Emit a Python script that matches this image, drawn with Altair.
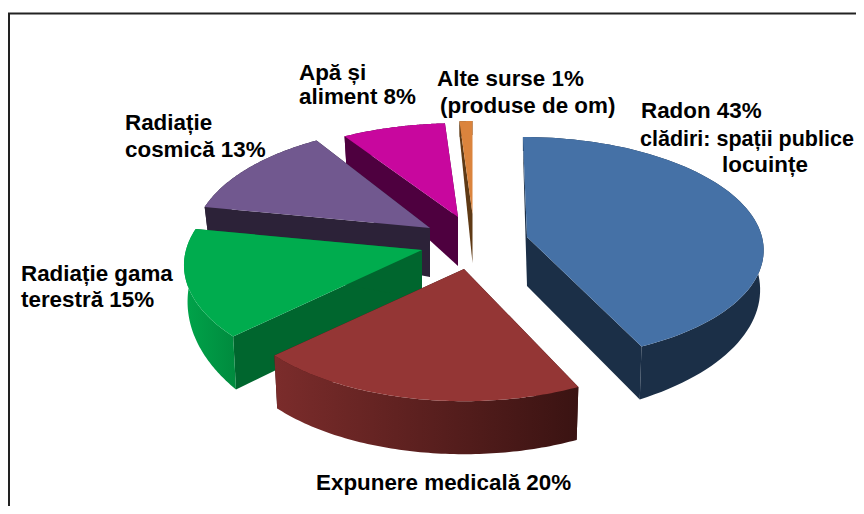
import numpy as np
import pandas as pd
import altair as alt

names = ["Radon", "Expunere medicala", "Radiatie gama", "Radiatie cosmica", "Apa si aliment", "Alte surse"]
values = [43, 20, 15, 13, 8, 1]
apex_x = [527, 464, 422, 430, 458, 472.5]
apex_y = [237, 269, 250, 228, 217, 214]
radius_x = [235, 237, 236, 235, 235, 235]
radius_y = [110, 115, 115, 115, 106, 105]
persp = [0.10, 0.13, 0.13, 0.13, 0.13, 0.13]
skew = [4.5, 0, 0, 0, 0, 0]
top_colors = ["#4571A6", "#943635", "#00AC4E", "#71588F", "#C8079E", "#DB843D"]
face_colors = ["#1B2F47", "#3A1312", "#00662E", "#2C2238", "#4E003F", "#5F3A15"]
rim_left = ["#1B2F47", "#7B2C2B", "#00A44A", "#2C2238", "#4E003F", "#5F3A15"]
rim_right = ["#1B2F47", "#3A1312", "#008A3E", "#2C2238", "#4E003F", "#5F3A15"]
apex_depth = 49
bottom_inset = 0.985
depth_angles = [0, 90, 155, 227, 281, 328, 360]
depth_rims = [14, 38, 53, 53, 28, 28, 14]

label_lines = [
    ("Apă și", 299, 80), ("aliment 8%", 299, 104),
    ("Alte surse 1%", 437, 86), ("(produse de om)", 440, 113),
    ("Radon 43%", 641, 118), ("locuințe", 722, 172),
    ("Radiație", 125, 130), ("cosmică 13%", 125, 157),
    ("Radiație gama", 21, 281), ("terestră 15%", 21, 307),
    ("Expunere medicală 20%", 316, 490),
]
long_line = [("clădiri: spații publice", 640, 146)]

X = alt.X("x:Q", axis=None, scale=alt.Scale(domain=[8, 856], nice=False, zero=False))
Y = alt.Y("y:Q", axis=None, scale=alt.Scale(domain=[8, 506], reverse=True, nice=False, zero=False))


def rim(i, deg):
    t = np.radians(deg)
    k = 1 / (1 + persp[i] * np.cos(t))
    x = apex_x[i] + radius_x[i] * np.sin(t) * k - skew[i] * np.cos(t) * k
    y = apex_y[i] - radius_y[i] * np.cos(t) * k
    return x, y


def depth(deg):
    return np.interp(np.asarray(deg) % 360.0001, depth_angles, depth_rims)


def lower_x(i, x):
    return apex_x[i] + (np.asarray(x) - apex_x[i]) * bottom_inset


def poly(xs, ys, fill):
    df = pd.DataFrame({"x": xs, "y": ys, "i": range(len(xs))})
    return alt.Chart(df).mark_line(fill=fill, strokeWidth=0, clip=True).encode(x=X, y=Y, order=alt.Order("i:Q"))


def face(i, deg):
    x, y = rim(i, deg)
    d = float(depth(deg))
    return poly([apex_x[i], x, float(lower_x(i, x)), apex_x[i]],
                [apex_y[i], y, y + d, apex_y[i] + apex_depth], face_colors[i])


layers = []
# back-to-front painting order of the slices
starts = np.concatenate([[0], np.cumsum(values)[:-1]]) * 360 / sum(values)
ends = np.cumsum(values) * 360 / sum(values)
for i in [5, 4, 3, 2, 0, 1]:
    a = np.linspace(starts[i], ends[i], 80)
    rx, ry = rim(i, a)
    layers.append(face(i, starts[i]))
    layers.append(face(i, ends[i]))
    grad = alt.LinearGradient(
        gradient="linear", x1=0, x2=1, y1=0, y2=0,
        stops=[alt.GradientStop(color=rim_left[i], offset=0),
               alt.GradientStop(color=rim_right[i], offset=1)],
    )
    layers.append(poly(list(rx) + list(lower_x(i, rx)[::-1]), list(ry) + list((ry + depth(a))[::-1]), grad))
    layers.append(poly([apex_x[i]] + list(rx), [apex_y[i]] + list(ry), top_colors[i]))

frame_h = pd.DataFrame({"x": [8, 856], "y": [13.5, 13.5]})
frame_v = pd.DataFrame({"x": [9, 9], "y": [13, 506]})
layers.append(alt.Chart(frame_h).mark_line(color="#222222", strokeWidth=2).encode(x=X, y=Y))
layers.append(alt.Chart(frame_v).mark_line(color="#222222", strokeWidth=2).encode(x=X, y=Y))

labels = pd.DataFrame(label_lines, columns=["t", "x", "y"])
layers.append(
    alt.Chart(labels).mark_text(font="Liberation Sans", fontWeight="bold", fontSize=22.4, align="left",
                                baseline="alphabetic", color="#000000").encode(x=X, y=Y, text="t:N")
)
long_df = pd.DataFrame(long_line, columns=["t", "x", "y"])
layers.append(
    alt.Chart(long_df).mark_text(font="Liberation Sans", fontWeight="bold", fontSize=21.5, align="left",
                                 baseline="alphabetic", color="#000000").encode(x=X, y=Y, text="t:N")
)

chart = alt.layer(*layers).properties(
    width=848, height=498, background="white",
    padding={"left": 0, "top": 0, "right": 0, "bottom": 0},
    autosize=alt.AutoSizeParams(type="none", contains="padding"),
).configure_view(stroke=None)
chart.save("out.html", embed_options={"renderer": "svg", "actions": False})
